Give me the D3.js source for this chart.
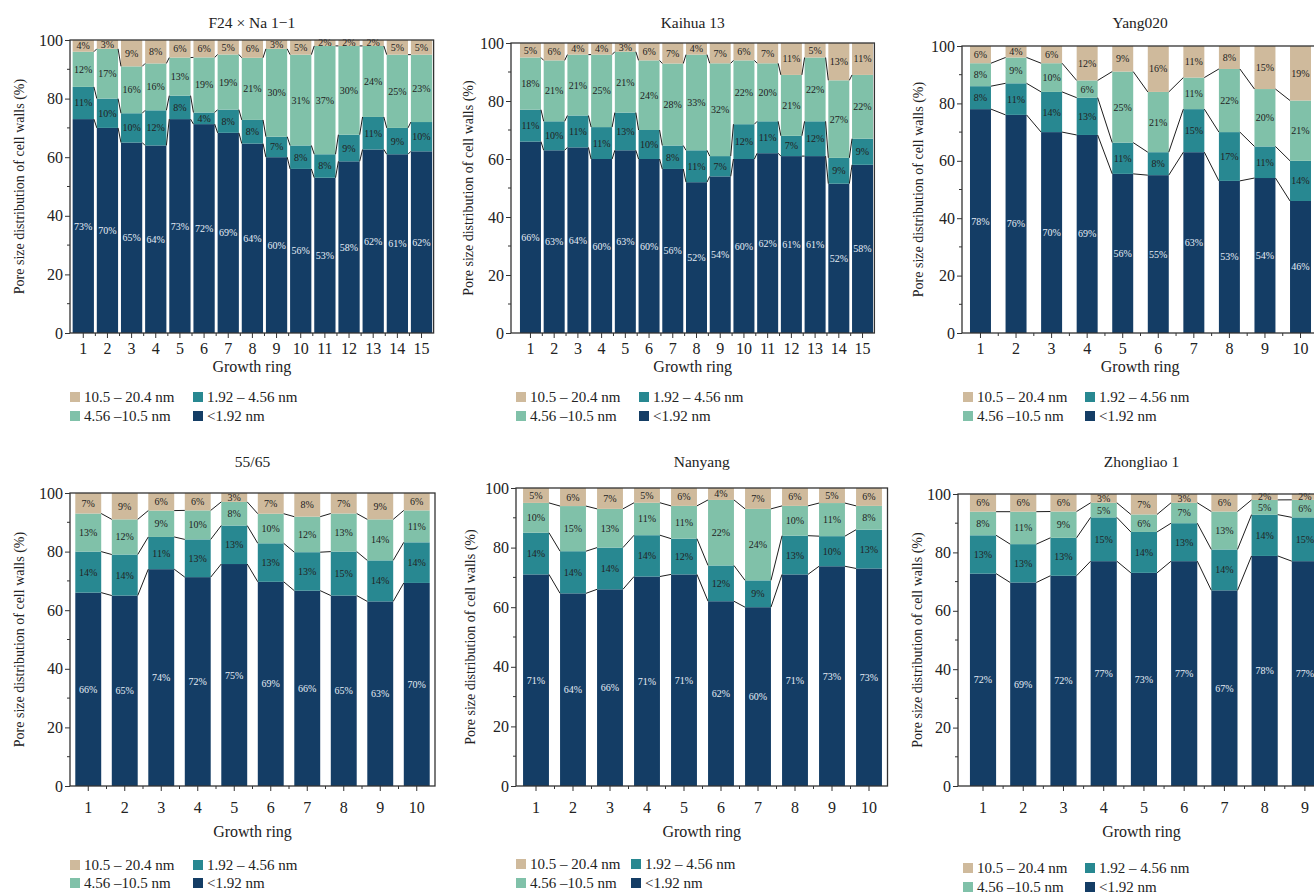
<!DOCTYPE html>
<html>
<head>
<meta charset="utf-8">
<script src="https://cdn.jsdelivr.net/npm/d3@7/dist/d3.min.js"></script>
<style>
  body { margin: 0; background: #fff; }
  svg { display: block; overflow: hidden; }
  text { font-family: "Liberation Serif", "Times New Roman", serif; fill: #222; }
</style>
</head>
<body>
<div id="chart"></div>
<script>
// pore size classes, bottom of the stack first
const classKeys = ["lt192", "c192", "c456", "c105"];
const classNames = ["<1.92 nm", "1.92 – 4.56 nm", "4.56 –10.5 nm", "10.5 – 20.4 nm"];
const classColors = ["#143d65", "#288891", "#80c1a9", "#cfba9c"];

// F24 × Na 1−1
const f24Rings = [1, 2, 3, 4, 5, 6, 7, 8, 9, 10, 11, 12, 13, 14, 15];
const f24Lt192 = [73, 70, 65, 64, 73, 72, 69, 64, 60, 56, 53, 58, 62, 61, 62];
const f24C192 = [11, 10, 10, 12, 8, 4, 8, 8, 7, 8, 8, 9, 11, 9, 10];
const f24C456 = [12, 17, 16, 16, 13, 19, 19, 21, 30, 31, 37, 30, 24, 25, 23];
const f24C105 = [4, 3, 9, 8, 6, 6, 5, 6, 3, 5, 2, 2, 2, 5, 5];

// Kaihua 13
const kaihuaRings = [1, 2, 3, 4, 5, 6, 7, 8, 9, 10, 11, 12, 13, 14, 15];
const kaihuaLt192 = [66, 63, 64, 60, 63, 60, 56, 52, 54, 60, 62, 61, 61, 52, 58];
const kaihuaC192 = [11, 10, 11, 11, 13, 10, 8, 11, 7, 12, 11, 7, 12, 9, 9];
const kaihuaC456 = [18, 21, 21, 25, 21, 24, 28, 33, 32, 22, 20, 21, 22, 27, 22];
const kaihuaC105 = [5, 6, 4, 4, 3, 6, 7, 4, 7, 6, 7, 11, 5, 13, 11];

// Yang020
const yangRings = [1, 2, 3, 4, 5, 6, 7, 8, 9, 10];
const yangLt192 = [78, 76, 70, 69, 56, 55, 63, 53, 54, 46];
const yangC192 = [8, 11, 14, 13, 11, 8, 15, 17, 11, 14];
const yangC456 = [8, 9, 10, 6, 25, 21, 11, 22, 20, 21];
const yangC105 = [6, 4, 6, 12, 9, 16, 11, 8, 15, 19];

// 55/65
const p5565Rings = [1, 2, 3, 4, 5, 6, 7, 8, 9, 10];
const p5565Lt192 = [66, 65, 74, 72, 75, 69, 66, 65, 63, 70];
const p5565C192 = [14, 14, 11, 13, 13, 13, 13, 15, 14, 14];
const p5565C456 = [13, 12, 9, 10, 8, 10, 12, 13, 14, 11];
const p5565C105 = [7, 9, 6, 6, 3, 7, 8, 7, 9, 6];

// Nanyang
const nanyangRings = [1, 2, 3, 4, 5, 6, 7, 8, 9, 10];
const nanyangLt192 = [71, 64, 66, 71, 71, 62, 60, 71, 73, 73];
const nanyangC192 = [14, 14, 14, 14, 12, 12, 9, 13, 10, 13];
const nanyangC456 = [10, 15, 13, 11, 11, 22, 24, 10, 11, 8];
const nanyangC105 = [5, 6, 7, 5, 6, 4, 7, 6, 5, 6];

// Zhongliao 1
const zhongRings = [1, 2, 3, 4, 5, 6, 7, 8, 9];
const zhongLt192 = [72, 69, 72, 77, 73, 77, 67, 78, 77];
const zhongC192 = [13, 13, 13, 15, 14, 13, 14, 14, 15];
const zhongC456 = [8, 11, 9, 5, 6, 7, 13, 5, 6];
const zhongC105 = [6, 6, 6, 3, 7, 3, 6, 2, 2];

const yTicks = [0, 20, 40, 60, 80, 100];
const yMinorTicks = [10, 30, 50, 70, 90];

const panels = [
    { title: "F24 × Na 1−1", rings: f24Rings, series: [f24Lt192, f24C192, f24C456, f24C105],
      axisX: 70, bandL: 71.2, bandR: 433.6, top: 40, bottom: 333, pad: 0.12, tickPad: 5,
      titleY: 28, xTitleY: 372, yLabX: 19, legX: [70, 193], legY: [397, 416] },
    { title: "Kaihua 13", rings: kaihuaRings, series: [kaihuaLt192, kaihuaC192, kaihuaC456, kaihuaC105],
      axisX: 511, bandL: 518.6, bandR: 874.4, top: 43, bottom: 333, pad: 0.115, tickPad: 5,
      titleY: 28, xTitleY: 372, yLabX: 468, legX: [516, 639], legY: [397, 416] },
    { title: "Yang020", rings: yangRings, series: [yangLt192, yangC192, yangC456, yangC105],
      axisX: 962, bandL: 962.7, bandR: 1318.3, top: 46, bottom: 333, pad: 0.41, tickPad: 5,
      titleY: 28, xTitleY: 372, yLabX: 918, legX: [963, 1085], legY: [397, 416] },
    { title: "55/65", rings: p5565Rings, series: [p5565Lt192, p5565C192, p5565C456, p5565C105],
      axisX: 70, bandL: 70, bandR: 435, top: 493, bottom: 786, pad: 0.29, tickPad: 11,
      titleY: 467, xTitleY: 837, yLabX: 19, legX: [70, 193], legY: [865, 883] },
    { title: "Nanyang", rings: nanyangRings, series: [nanyangLt192, nanyangC192, nanyangC456, nanyangC105],
      axisX: 516, bandL: 517.5, bandR: 887.5, top: 488, bottom: 786, pad: 0.3, tickPad: 11,
      titleY: 467, xTitleY: 837, yLabX: 470, legX: [516, 631], legY: [864, 883] },
    { title: "Zhongliao 1", rings: zhongRings, series: [zhongLt192, zhongC192, zhongC456, zhongC105],
      axisX: 958, bandL: 962.9, bandR: 1325, top: 494, bottom: 786, pad: 0.35, tickPad: 11,
      titleY: 467, xTitleY: 837, yLabX: 917, legX: [963, 1085], legY: [868, 887] }
];

const svg = d3.select("#chart").append("svg")
    .attr("width", 1314)
    .attr("height", 893);

panels.forEach(p => drawPanel(p));

function drawPanel(p) {
    const g = svg.append("g");

    const rows = p.rings.map((r, i) => {
        const row = { ring: r };
        classKeys.forEach((k, j) => row[k] = p.series[j][i]);
        return row;
    });

    // each bar normalised to 100%
    const stacked = d3.stack().keys(classKeys).offset(d3.stackOffsetExpand)(rows);

    const x = d3.scaleBand()
        .domain(p.rings)
        .range([p.bandL, p.bandR])
        .paddingInner(p.pad)
        .paddingOuter(p.pad / 2);

    const y = d3.scaleLinear()
        .domain([0, 100])
        .range([p.bottom, p.top]);

    const bw = x.bandwidth();

    // bars
    stacked.forEach((layer, j) => {
        g.append("g")
            .selectAll("rect")
            .data(layer)
            .join("rect")
            .attr("x", d => x(d.data.ring))
            .attr("y", d => y(d[1] * 100))
            .attr("width", bw)
            .attr("height", d => y(d[0] * 100) - y(d[1] * 100))
            .attr("fill", classColors[j]);
    });

    // lines linking the class boundaries of neighbouring bars
    stacked.slice(0, 3).forEach(layer => {
        for (let i = 0; i < layer.length - 1; i++) {
            const a = layer[i], b = layer[i + 1];
            g.append("line")
                .attr("x1", x(a.data.ring) + bw)
                .attr("y1", y(a[1] * 100))
                .attr("x2", x(b.data.ring))
                .attr("y2", y(b[1] * 100))
                .attr("stroke", "#1e1e1e")
                .attr("stroke-width", 1);
        }
    });

    // percentage labels
    stacked.forEach((layer, j) => {
        g.append("g")
            .selectAll("text")
            .data(layer)
            .join("text")
            .attr("x", d => x(d.data.ring) + bw / 2)
            .attr("y", d => y((d[0] + d[1]) / 2 * 100))
            .attr("dy", "0.35em")
            .attr("text-anchor", "middle")
            .style("font-size", "10px")
            .style("fill", j === 0 ? "#e6edf5" : "#222")
            .text(d => d.data[classKeys[j]] + "%");
    });

    // frame
    g.append("rect")
        .attr("x", p.axisX)
        .attr("y", p.top)
        .attr("width", p.bandR - p.axisX)
        .attr("height", p.bottom - p.top)
        .attr("fill", "none")
        .attr("stroke", "#333")
        .attr("stroke-width", 1.3);

    // y axis
    const yAx = g.append("g")
        .attr("transform", `translate(${p.axisX},0)`)
        .call(d3.axisLeft(y).tickValues(yTicks).tickSize(5).tickSizeOuter(0).tickPadding(2));
    yAx.select(".domain").remove();
    yAx.selectAll("text").style("font-size", "16px").style("font-family", "Liberation Serif").attr("fill", "#222");
    yAx.selectAll("line").attr("stroke", "#333");

    g.append("g")
        .selectAll("line")
        .data(yMinorTicks)
        .join("line")
        .attr("x1", p.axisX - 3)
        .attr("x2", p.axisX)
        .attr("y1", d => y(d))
        .attr("y2", d => y(d))
        .attr("stroke", "#333");

    // x axis
    const xAx = g.append("g")
        .attr("transform", `translate(0,${p.bottom})`)
        .call(d3.axisBottom(x).tickSize(5).tickSizeOuter(0).tickPadding(p.tickPad));
    xAx.select(".domain").remove();
    xAx.selectAll("text").style("font-size", "16px").style("font-family", "Liberation Serif").attr("fill", "#222");
    xAx.selectAll("line").attr("stroke", "#333");

    const step = x.step();
    g.append("g")
        .selectAll("line")
        .data(p.rings.slice(1))
        .join("line")
        .attr("x1", (d, i) => p.bandL + (i + 1) * step)
        .attr("x2", (d, i) => p.bandL + (i + 1) * step)
        .attr("y1", p.bottom)
        .attr("y2", p.bottom + 3)
        .attr("stroke", "#333");

    // titles
    g.append("text")
        .attr("x", (p.axisX + p.bandR) / 2)
        .attr("y", p.titleY)
        .attr("text-anchor", "middle")
        .style("font-size", "15.5px")
        .text(p.title);

    g.append("text")
        .attr("x", (p.axisX + p.bandR) / 2)
        .attr("y", p.xTitleY)
        .attr("text-anchor", "middle")
        .style("font-size", "16px")
        .text("Growth ring");

    g.append("text")
        .attr("transform", `translate(${p.yLabX},${(p.top + p.bottom) / 2}) rotate(-90)`)
        .attr("dy", "0.35em")
        .attr("text-anchor", "middle")
        .style("font-size", "14px")
        .text("Pore size distribution of cell walls (%)");

    // legend: two rows, two columns
    const legendOrder = [[3, 1], [2, 0]];
    legendOrder.forEach((rowItems, r) => {
        rowItems.forEach((k, c) => {
            const lx = p.legX[c], ly = p.legY[r];
            g.append("rect")
                .attr("x", lx)
                .attr("y", ly - 5)
                .attr("width", 10)
                .attr("height", 10)
                .attr("fill", classColors[k]);
            g.append("text")
                .attr("x", lx + 14)
                .attr("y", ly)
                .attr("dy", "0.35em")
                .style("font-size", "15px")
                .text(classNames[k]);
        });
    });
}
</script>
</body>
</html>
